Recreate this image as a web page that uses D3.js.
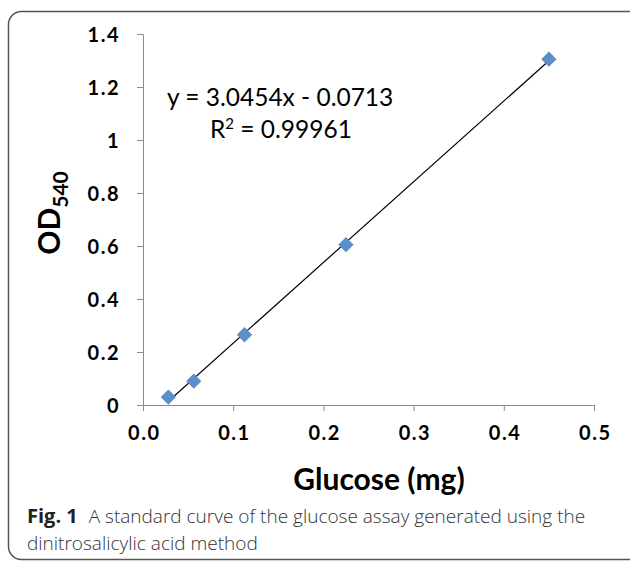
<!doctype html>
<html lang="en">
<head>
  <meta charset="utf-8">
  <title>Glucose standard curve</title>
  <script src="https://d3js.org/d3.v7.min.js"></script>
  <style>
    body { margin: 0; background: #fff; }
  </style>
</head>
<body>
<svg id="chart" width="630" height="563"></svg>
<script>
// data
var glucose = [0.028125, 0.05625, 0.1125, 0.225, 0.45];
var od540 = [0.03, 0.09, 0.265, 0.605, 1.305];
var xTicks = [0, 0.1, 0.2, 0.3, 0.4, 0.5];
var yTicks = [0, 0.2, 0.4, 0.6, 0.8, 1, 1.2, 1.4];
var slope = 3.0454, intercept = -0.0713;
var eqLines = ["y = 3.0454x - 0.0713", "R² = 0.99961"];

var svg = d3.select("#chart");
var tickFont = "Lato, 'Open Sans', sans-serif";

// outer frame
svg.append("rect")
  .attr("x", 8.5).attr("y", 11.5)
  .attr("width", 640).attr("height", 548)
  .attr("rx", 13)
  .attr("fill", "none")
  .attr("stroke", "#555")
  .attr("stroke-width", 1.5);

var x = d3.scaleLinear().domain([0, 0.5]).range([143, 594]);
var y = d3.scaleLinear().domain([0, 1.4]).range([405, 34]);

// y axis
var yAxis = svg.append("g")
  .attr("transform", "translate(143,0)")
  .call(d3.axisLeft(y).tickValues(yTicks).tickSize(6).tickPadding(17)
    .tickFormat(function(d) { return d3.format("")(+d.toFixed(1)); }));

// x axis
var xAxis = svg.append("g")
  .attr("transform", "translate(0,405)")
  .call(d3.axisBottom(x).tickValues(xTicks).tickSize(6).tickPadding(15)
    .tickFormat(d3.format(".1f")));

[xAxis, yAxis].forEach(function(g) {
  g.select(".domain").attr("stroke", "#8c8c8c");
  g.selectAll(".tick line").attr("stroke", "#8c8c8c");
  g.selectAll(".tick text")
    .attr("fill", "#000")
    .style("font-family", tickFont)
    .style("font-weight", "bold")
    .style("font-size", "20px")
    .style("letter-spacing", "1.5px");
});
yAxis.selectAll(".tick text").attr("dy", "0.36em");
xAxis.selectAll(".tick text").attr("dx", "0.75px");

// trend line
var x0 = d3.min(glucose), x1 = d3.max(glucose);
svg.append("line")
  .attr("x1", x(x0)).attr("y1", y(slope * x0 + intercept))
  .attr("x2", x(x1)).attr("y2", y(slope * x1 + intercept))
  .attr("stroke", "#000")
  .attr("stroke-width", 1.2);

// diamond markers
var diamond = d3.symbol().type(d3.symbolDiamond2).size(150);
svg.append("g")
  .selectAll("path")
  .data(glucose)
  .enter()
  .append("path")
    .attr("d", diamond)
    .attr("transform", function(d, i) { return "translate(" + x(d) + "," + y(od540[i]) + ")"; })
    .attr("fill", "#5b8fc9");

// equation
svg.append("text")
  .attr("x", 167).attr("y", 106)
  .style("font-family", tickFont)
  .style("font-size", "24.5px")
  .text(eqLines[0]);
var r2 = svg.append("text")
  .attr("x", 210).attr("y", 138)
  .style("font-family", tickFont)
  .style("font-size", "24.5px");
r2.append("tspan").text("R");
r2.append("tspan").attr("font-size", "15px").attr("dy", -9).text("2");
r2.append("tspan").attr("dy", 9).text(eqLines[1].slice(2));

// axis titles
var yt = svg.append("text")
  .attr("transform", "translate(60,213) rotate(-90)")
  .attr("text-anchor", "middle")
  .style("font-family", tickFont)
  .style("font-weight", "bold")
  .style("font-size", "30px");
yt.append("tspan").text("OD");
yt.append("tspan").attr("font-size", "21px").attr("dy", 8).text("540");

svg.append("text")
  .attr("x", 379).attr("y", 490)
  .attr("text-anchor", "middle")
  .style("font-family", tickFont)
  .style("font-weight", "bold")
  .style("font-size", "30px")
  .text("Glucose (mg)");

// caption
var cap = svg.append("text")
  .attr("x", 27).attr("y", 523)
  .style("font-family", "'Open Sans', sans-serif")
  .style("font-size", "19px")
  .style("font-weight", 300)
  .attr("fill", "#333");
cap.append("tspan").style("font-weight", "bold").style("font-size", "20px").attr("fill", "#222").text("Fig. 1");
cap.append("tspan").attr("dx", 11).text("A standard curve of the glucose assay generated using the");
svg.append("text")
  .attr("x", 27).attr("y", 550)
  .style("font-family", "'Open Sans', sans-serif")
  .style("font-size", "19px")
  .style("font-weight", 300)
  .attr("fill", "#333")
  .text("dinitrosalicylic acid method");
</script>
</body>
</html>
